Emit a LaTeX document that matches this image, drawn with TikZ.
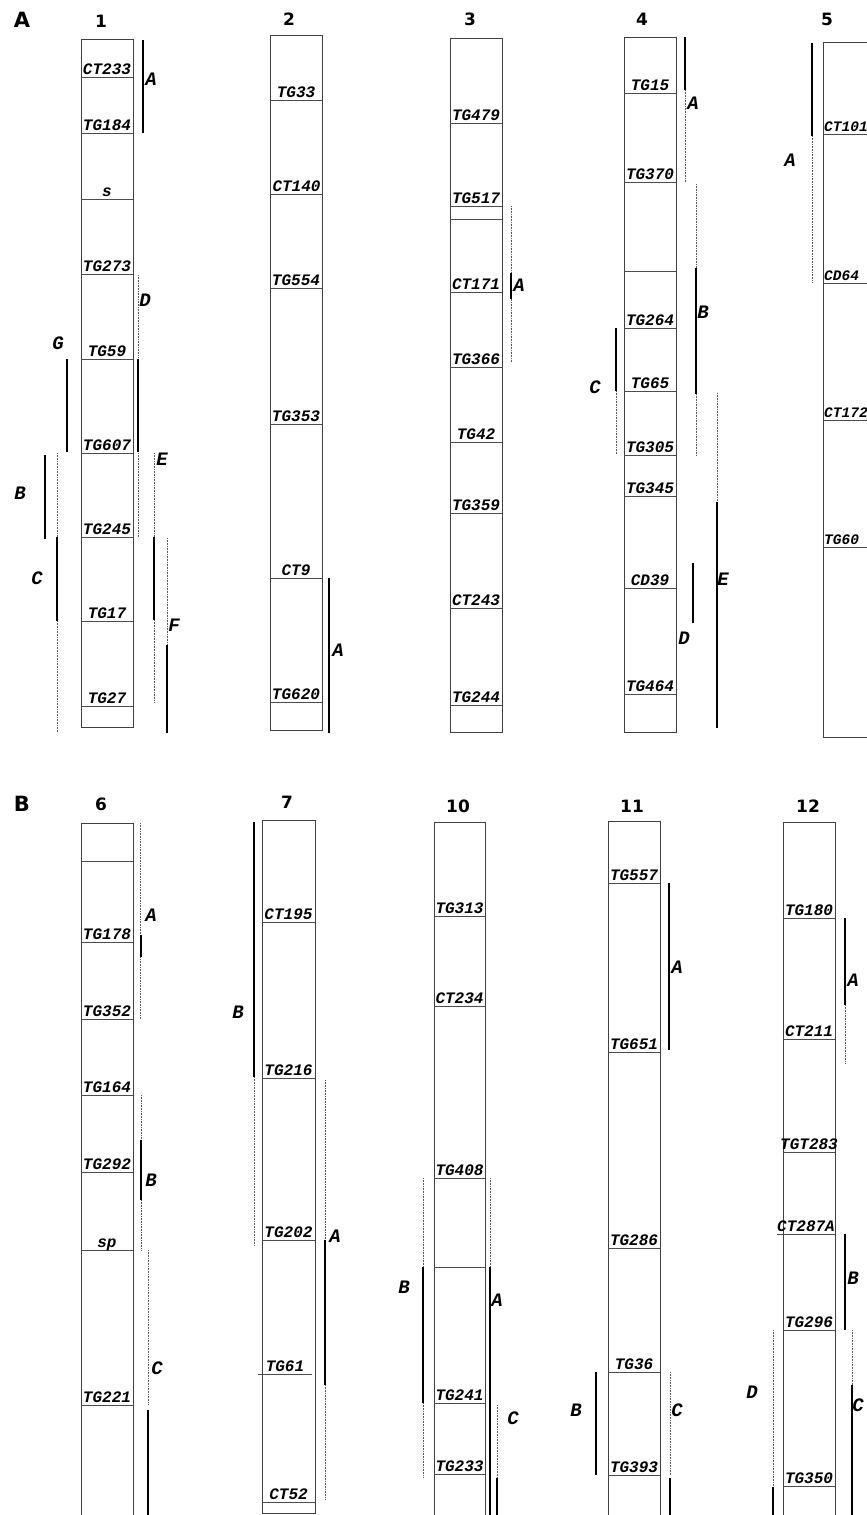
\documentclass[tikz,border=0pt]{standalone}
\usepackage{fontspec}
\newfontfamily\mono{Liberation Mono}
\newfontfamily\hsans{DejaVu Sans}
\tikzset{
 colbox/.style={draw=black!75, line width=0.9pt},
 mkline/.style={draw=black!70, line width=0.8pt},
 mklab/.style={font=\fontsize{16}{16}\selectfont\mono\bfseries\itshape, inner sep=0pt, anchor=base},
 mklabs/.style={font=\fontsize{14.5}{14.5}\selectfont\mono\bfseries\itshape, inner sep=0pt, anchor=base west},
 reglab/.style={font=\fontsize{19}{19}\selectfont\mono\bfseries\itshape, inner sep=0pt},
 hdr/.style={font=\fontsize{17}{17}\selectfont\hsans\bfseries, inner sep=0pt},
 panel/.style={font=\fontsize{21}{21}\selectfont\hsans\bfseries, inner sep=0pt},
 sol/.style={draw=black, line width=1.2pt},
 dotl/.style={draw=black!65, line width=1pt, dash pattern=on 0.8pt off 0.8pt},
}
% marker line with label: xl, xr, y, text, name
\newcommand\mkr[5]{\draw[mkline] (#1,#3) -- (#2,#3); \node[mklab] (#5) at ({(#1+#2)/2},{#3-2.5}) {#4};}
% marker for the cut column 5: xl, xr, y, text, name
\newcommand\mkrs[5]{\draw[mkline] (#1,#3) -- (#2,#3); \node[mklabs] (#5) at ({#1+1},{#3-2.5}) {#4};}
% vertical segment: style, x, y1, y2
\newcommand\vseg[4]{\draw[#1] (#2,#3) -- (#2,#4);}
% region label: x, y, text, name
\newcommand\rlab[4]{\node[reglab] (#4) at (#1,#2) {#3};}
\begin{document}
\begin{tikzpicture}[x=1pt,y=-1pt]
\useasboundingbox (0,0) rectangle (867,1515);
\clip (0,0) rectangle (867,1515);
% ================= panel A =================
\node[panel] (pA) at (22,20) {A};
% ---- column 1
\node[hdr] (h1) at (101,21) {1};
\draw[colbox] (81,39) rectangle (133,727);
\mkr{81}{133}{77}{CT233}{c1a}
\mkr{81}{133}{133}{TG184}{c1b}
\mkr{81}{133}{199}{s}{c1c}
\mkr{81}{133}{274}{TG273}{c1d}
\mkr{81}{133}{359}{TG59}{c1e}
\mkr{81}{133}{453}{TG607}{c1f}
\mkr{81}{133}{537}{TG245}{c1g}
\mkr{81}{133}{621}{TG17}{c1h}
\mkr{81}{133}{706}{TG27}{c1i}
\vseg{sol}{143}{40}{133}\rlab{151}{79}{A}{r1A}
\vseg{dotl}{138}{275}{358}\vseg{sol}{138}{359}{452}\vseg{dotl}{138}{453}{537}\rlab{145}{300}{D}{r1D}
\vseg{sol}{67}{359}{452}\rlab{58}{343}{G}{r1G}
\vseg{sol}{45}{455}{539}\rlab{20}{493}{B}{r1B}
\vseg{dotl}{57}{453}{537}\vseg{sol}{57}{537}{621}\vseg{dotl}{57}{621}{733}\rlab{37}{578}{C}{r1C}
\vseg{dotl}{154}{453}{537}\vseg{sol}{154}{537}{620}\vseg{dotl}{154}{620}{703}\rlab{162}{459}{E}{r1E}
\vseg{dotl}{167}{538}{645}\vseg{sol}{167}{645}{733}\rlab{174}{625}{F}{r1F}
% ---- column 2
\node[hdr] (h2) at (289,19) {2};
\draw[colbox] (270,35) rectangle (322,730);
\mkr{270}{322}{100}{TG33}{c2a}
\mkr{270}{323}{194}{CT140}{c2b}
\mkr{270}{322}{288}{TG554}{c2c}
\mkr{270}{322}{424}{TG353}{c2d}
\mkr{270}{322}{578}{CT9}{c2e}
\mkr{270}{322}{702}{TG620}{c2f}
\vseg{sol}{329}{578}{733}\rlab{338}{650}{A}{r2A}
% ---- column 3
\node[hdr] (h3) at (470,19) {3};
\draw[colbox] (450,38) rectangle (502,732);
\mkr{450}{502}{123}{TG479}{c3a}
\mkr{450}{502}{206}{TG517}{c3b}
\draw[mkline] (450,219) -- (502,219);
\mkr{450}{502}{292}{CT171}{c3c}
\mkr{450}{502}{367}{TG366}{c3d}
\mkr{450}{502}{442}{TG42}{c3e}
\mkr{450}{502}{513}{TG359}{c3f}
\mkr{450}{502}{608}{CT243}{c3g}
\mkr{450}{502}{705}{TG244}{c3h}
\vseg{dotl}{511}{206}{362}\vseg{sol}{511}{273}{299}\rlab{519}{285}{A}{r3A}
% ---- column 4
\node[hdr] (h4) at (642,19) {4};
\draw[colbox] (624,37) rectangle (676,732);
\mkr{624}{676}{93}{TG15}{c4a}
\mkr{624}{676}{182}{TG370}{c4b}
\draw[mkline] (624,271) -- (676,271);
\mkr{624}{676}{328}{TG264}{c4c}
\mkr{624}{676}{391}{TG65}{c4d}
\mkr{624}{676}{455}{TG305}{c4e}
\mkr{624}{676}{496}{TG345}{c4f}
\mkr{624}{676}{588}{CD39}{c4g}
\mkr{624}{676}{694}{TG464}{c4h}
\vseg{sol}{685}{37}{90}\vseg{dotl}{685}{90}{182}\rlab{693}{103}{A}{r4A}
\vseg{dotl}{696}{184}{268}\vseg{sol}{696}{268}{394}\vseg{dotl}{696}{394}{455}\rlab{703}{312}{B}{r4B}
\vseg{sol}{616}{328}{391}\vseg{dotl}{616}{391}{454}\rlab{595}{387}{C}{r4C}
\vseg{dotl}{717}{393}{502}\vseg{sol}{717}{502}{728}\rlab{723}{579}{E}{r4E}
\vseg{sol}{693}{563}{623}\rlab{684}{638}{D}{r4D}
% ---- column 5
\node[hdr] (h5) at (827,19) {5};
\draw[colbox] (823,42) rectangle (880,737);
\mkrs{823}{880}{134}{CT101}{c5a}
\mkrs{823}{880}{283}{CD64}{c5b}
\mkrs{823}{880}{420}{CT172}{c5c}
\mkrs{823}{880}{547}{TG60}{c5d}
\vseg{sol}{812}{43}{136}\vseg{dotl}{812}{136}{283}\rlab{790}{160}{A}{r5A}
% ================= panel B =================
\node[panel] (pB) at (22,804) {B};
% ---- column 6
\node[hdr] (h6) at (101,804) {6};
\draw[colbox] (81,1530) -- (81,823) -- (133,823) -- (133,1530);
\draw[mkline] (81,861) -- (133,861);
\mkr{81}{133}{942}{TG178}{c6a}
\mkr{81}{133}{1019}{TG352}{c6b}
\mkr{81}{133}{1095}{TG164}{c6c}
\mkr{81}{133}{1172}{TG292}{c6d}
\mkr{81}{133}{1250}{sp}{c6e}
\mkr{81}{133}{1405}{TG221}{c6f}
\vseg{dotl}{140}{823}{1019}\vseg{sol}{141}{935}{957}\rlab{151}{915}{A}{r6A}
\vseg{dotl}{141}{1095}{1140}\vseg{sol}{141}{1140}{1200}\vseg{dotl}{141}{1200}{1250}\rlab{151}{1180}{B}{r6B}
\vseg{dotl}{148}{1250}{1405}\vseg{sol}{148}{1410}{1530}\rlab{157}{1368}{C}{r6C}
% ---- column 7
\node[hdr] (h7) at (287,802) {7};
\draw[colbox] (262,820) rectangle (315,1513);
\mkr{262}{315}{922}{CT195}{c7a}
\mkr{262}{315}{1078}{TG216}{c7b}
\mkr{262}{315}{1240}{TG202}{c7c}
\mkr{258}{312}{1374}{TG61}{c7d}
\mkr{262}{315}{1502}{CT52}{c7e}
\vseg{sol}{254}{822}{1077}\vseg{dotl}{254}{1077}{1246}\rlab{238}{1012}{B}{r7B}
\vseg{dotl}{325}{1080}{1240}\vseg{sol}{325}{1240}{1385}\vseg{dotl}{325}{1385}{1500}\rlab{335}{1236}{A}{r7A}
% ---- column 10
\node[hdr] (h10) at (458,806) {10};
\draw[colbox] (434,1530) -- (434,822) -- (485,822) -- (485,1530);
\mkr{434}{485}{916}{TG313}{c10a}
\mkr{434}{485}{1006}{CT234}{c10b}
\mkr{434}{485}{1178}{TG408}{c10c}
\draw[mkline] (434,1267) -- (485,1267);
\mkr{434}{485}{1403}{TG241}{c10d}
\mkr{434}{485}{1474}{TG233}{c10e}
\vseg{dotl}{423}{1178}{1267}\vseg{sol}{423}{1267}{1403}\vseg{dotl}{423}{1403}{1478}\rlab{404}{1287}{B}{r10B}
\vseg{dotl}{490}{1178}{1267}\vseg{sol}{490}{1267}{1530}\rlab{497}{1300}{A}{r10A}
\vseg{dotl}{497}{1405}{1478}\vseg{sol}{497}{1478}{1530}\rlab{513}{1418}{C}{r10C}
% ---- column 11
\node[hdr] (h11) at (632,806) {11};
\draw[colbox] (608,1530) -- (608,821) -- (660,821) -- (660,1530);
\mkr{608}{660}{883}{TG557}{c11a}
\mkr{608}{660}{1052}{TG651}{c11b}
\mkr{608}{660}{1248}{TG286}{c11c}
\mkr{608}{660}{1372}{TG36}{c11d}
\mkr{608}{660}{1475}{TG393}{c11e}
\vseg{sol}{669}{883}{1050}\rlab{677}{967}{A}{r11A}
\vseg{sol}{596}{1372}{1475}\rlab{576}{1410}{B}{r11B}
\vseg{dotl}{670}{1372}{1475}\vseg{sol}{670}{1478}{1530}\rlab{677}{1410}{C}{r11C}
% ---- column 12
\node[hdr] (h12) at (808,806) {12};
\draw[colbox] (783,1530) -- (783,822) -- (835,822) -- (835,1530);
\mkr{783}{835}{918}{TG180}{c12a}
\mkr{783}{835}{1039}{CT211}{c12b}
\mkr{783}{835}{1152}{TGT283}{c12c}
\mkr{777}{835}{1234}{CT287A}{c12d}
\mkr{783}{835}{1330}{TG296}{c12e}
\mkr{783}{835}{1486}{TG350}{c12f}
\vseg{sol}{845}{918}{1005}\vseg{dotl}{845}{1005}{1064}\rlab{853}{980}{A}{r12A}
\vseg{sol}{845}{1234}{1330}\rlab{853}{1278}{B}{r12B}
\vseg{dotl}{852}{1330}{1385}\vseg{sol}{852}{1385}{1530}\rlab{858}{1405}{C}{r12C}
\vseg{dotl}{773}{1330}{1487}\vseg{sol}{773}{1487}{1530}\rlab{752}{1392}{D}{r12D}
\end{tikzpicture}
\end{document}
